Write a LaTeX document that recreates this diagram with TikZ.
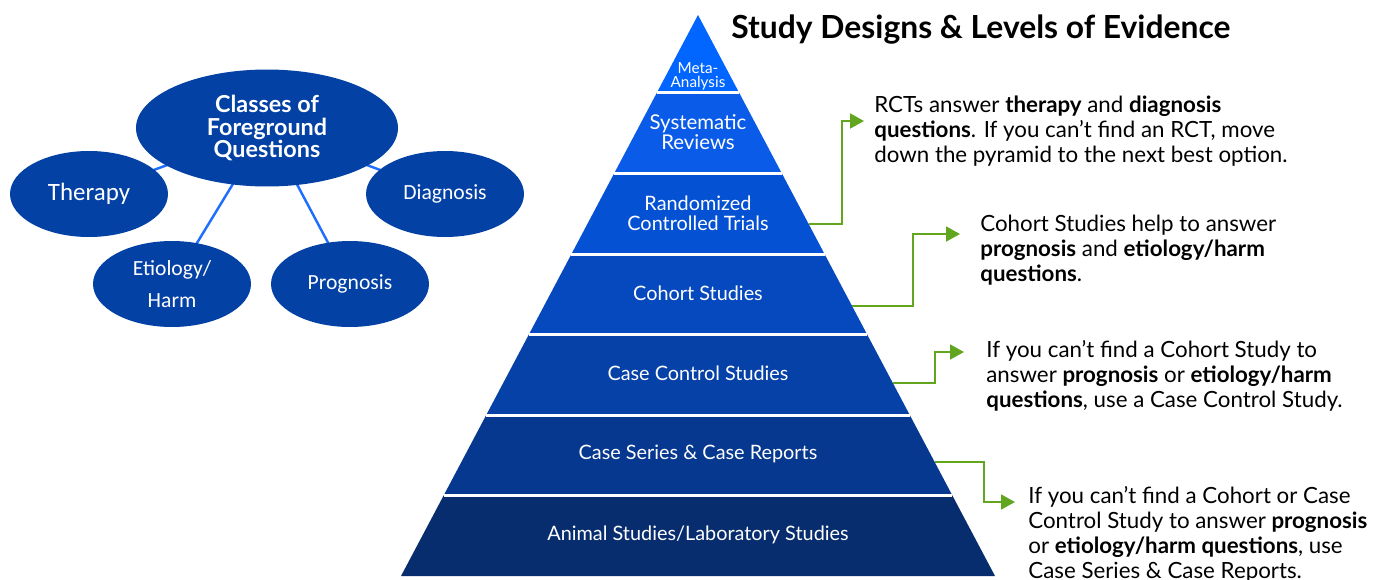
\documentclass[tikz,border=0pt]{standalone}
\usepackage{fontspec}
\setmainfont{Lato}
\newfontfamily\ovalfont{Carlito}
\usetikzlibrary{shapes.geometric,arrows.meta,backgrounds}

\definecolor{bandA}{HTML}{0066FF}
\definecolor{bandB}{HTML}{0A5CE8}
\definecolor{bandC}{HTML}{0551D3}
\definecolor{bandD}{HTML}{0648BE}
\definecolor{bandE}{HTML}{0641A8}
\definecolor{bandF}{HTML}{07388F}
\definecolor{bandG}{HTML}{072D6E}
\definecolor{ovalblue}{HTML}{0341A5}
\definecolor{linkblue}{HTML}{1F6FFF}
\definecolor{arrowgreen}{HTML}{62A620}

\begin{document}
\begin{tikzpicture}[x=0.02cm, y=-0.02cm,
    qoval/.style={ellipse, fill=ovalblue, text=white, inner sep=1pt,
      minimum width=3.16cm, minimum height=1.72cm, align=center,
      font=\ovalfont\fontsize{12.3}{18}\selectfont},
    bandlabel/.style={text=white, align=center, font=\fontsize{11.3}{11.4}\selectfont},
    callout/.style={anchor=west, align=left, inner sep=0pt,
      font=\fontsize{12.7}{14.2}\selectfont},
    elbow/.style={arrowgreen, line width=1.1pt,
      -{Triangle[length=0.28cm,width=0.3cm]}},
    ovallink/.style={linkblue, line width=1.4pt}]
  \useasboundingbox (0,0) rectangle (1376,579);

  % Classes of foreground questions
  \node[qoval, minimum width=5.24cm, minimum height=2.34cm,
    font=\bfseries\fontsize{13.3}{13}\selectfont] (classes) at (267,128)
    {Classes of\\Foreground\\Questions};
  \node[qoval, font=\ovalfont\fontsize{14.2}{15}\selectfont] (therapy) at (89,194) {Therapy};
  \node[qoval] (diagnosis) at (445,194) {Diagnosis};
  \node[qoval] (etiology) at (172,284) {Etiology/\\Harm};
  \node[qoval] (prognosis) at (350,284) {Prognosis};
  \begin{scope}[on background layer]
    \draw[ovallink] (classes.center) -- (therapy.center);
    \draw[ovallink] (classes.center) -- (diagnosis.center);
    \draw[ovallink] (classes.center) -- (etiology.center);
    \draw[ovallink] (classes.center) -- (prognosis.center);
  \end{scope}

  % Pyramid
  \foreach \yt/\yb/\col in {15/92/bandA, 92/173/bandB, 173/254/bandC,
      254/334.5/bandD, 334.5/415/bandE, 415/495.5/bandF, 495.5/576/bandG} {
    \fill[\col] ({698-(\yt-15)*0.5294},\yt) -- ({698+(\yt-15)*0.5294},\yt)
      -- ({698+(\yb-15)*0.5294},\yb) -- ({698-(\yb-15)*0.5294},\yb) -- cycle;
  }
  \foreach \yg in {92, 173, 254, 334.5, 415, 495.5} {
    \draw[white, line width=0.06cm] ({698-(\yg-15)*0.5294},\yg) -- ({698+(\yg-15)*0.5294},\yg);
  }

  \node[bandlabel, font=\fontsize{8.7}{8}\selectfont] (meta) at (698,76) {Meta-\\Analysis};
  \node[bandlabel, font=\fontsize{11.6}{11}\selectfont] (sysrev) at (698,132) {Systematic\\Reviews};
  \node[bandlabel] (rct) at (698,213) {Randomized\\Controlled Trials};
  \node[bandlabel] (cohort) at (698,293) {Cohort Studies};
  \node[bandlabel] (casecontrol) at (698,373) {Case Control Studies};
  \node[bandlabel] (caseseries) at (698,454) {Case Series \& Case Reports};
  \node[bandlabel] (animal) at (698,535) {Animal Studies/Laboratory Studies};

  \node[anchor=west, inner sep=0pt, font=\bfseries\fontsize{18.1}{20}\selectfont]
    (title) at (731,30) {Study Designs \& Levels of Evidence};

  % Callouts
  \node[callout] (rctnote) at (874,131)
    {RCTs answer \textbf{therapy} and \textbf{diagnosis}\\
     \textbf{questions}. If you can't find an RCT, move\\
     down the pyramid to the next best option.};
  \node[callout] (cohortnote) at (980,250)
    {Cohort Studies help to answer\\
     \textbf{prognosis} and \textbf{etiology/harm}\\
     \textbf{questions}.};
  \node[callout] (ccnote) at (986,376)
    {If you can't find a Cohort Study to\\
     answer \textbf{prognosis} or \textbf{etiology/harm}\\
     \textbf{questions}, use a Case Control Study.};
  \node[callout] (seriesnote) at (1028,534)
    {If you can't find a Cohort or Case\\
     Control Study to answer \textbf{prognosis}\\
     or \textbf{etiology/harm questions}, use\\
     Case Series \& Case Reports.};

  \coordinate (rctedge) at (808.6,224);
  \coordinate (cohortedge) at (852.1,306);
  \coordinate (ccedge) at (892.8,383);
  \coordinate (seriesedge) at (934.6,462);
  \coordinate (rcttip) at (864,121);
  \coordinate (cohorttip) at (960,234);
  \coordinate (cctip) at (964,352);
  \coordinate (seriestip) at (1015,502);

  \draw[elbow] (rctedge) -- ++(33,0) |- (rcttip);
  \draw[elbow] (cohortedge) -- ++(61,0) |- (cohorttip);
  \draw[elbow] (ccedge) -- ++(42,0) |- (cctip);
  \draw[elbow] (seriesedge) -- ++(49,0) |- (seriestip);
\end{tikzpicture}
\end{document}
